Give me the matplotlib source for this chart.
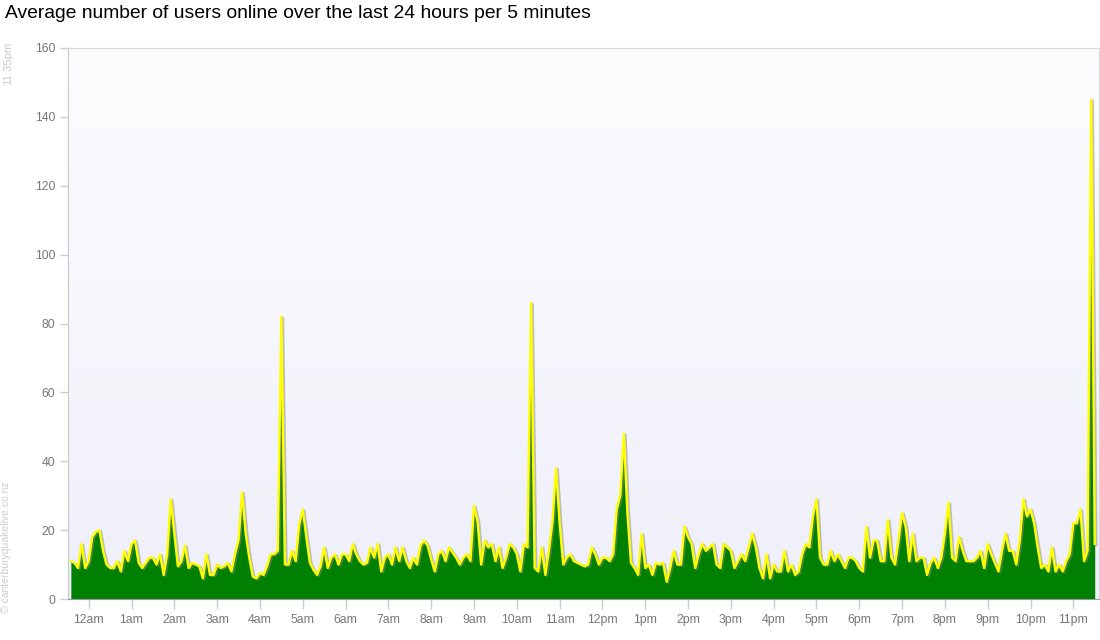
import numpy as np
import matplotlib.pyplot as plt
import matplotlib.patheffects as pe
from matplotlib.colors import LinearSegmentedColormap

plt.rcParams['font.family'] = ['Liberation Sans', 'DejaVu Sans']

# average users online, one value per 5 minutes, 11:35pm -> 11:30pm
users = [
    11, 10.5, 9, 16, 9, 11, 18, 19.5, 20, 14, 10, 9, 9, 11, 8, 14, 11, 16, 17, 10.5,
    9, 10.5, 12, 12, 10, 13, 7, 13, 29, 19, 9.5, 11, 15.5, 9, 10.5,
    10, 9.5, 6, 13, 7, 7, 10, 9, 9.5, 10.5, 8, 13, 17, 31, 19, 12, 6.5, 6, 7.5, 7,
    9.5, 13, 13, 14, 82, 10, 10, 14, 11, 21.5, 26, 18, 10.5, 8.5, 7, 9.5,
    15, 9, 12, 13, 10, 13, 13, 11, 16, 13, 11, 10, 10.5, 15, 12, 16, 8, 12, 13, 10,
    15, 11, 15, 11, 9, 12, 10, 15.5, 17, 15.5, 11.5, 8, 13, 14, 11, 15, 13.5,
    12, 10, 12, 13, 11, 27, 22.5, 10, 17, 15, 16, 11, 15, 9, 12, 16, 15, 13, 8, 16,
    15, 86, 9, 8, 15, 7, 14, 22.5, 38, 22, 10, 12, 13, 11, 10.5, 10,
    9.5, 10, 15, 13, 10, 12, 12, 11, 13, 26, 30, 48, 25, 10.5, 9, 7, 19, 9, 10, 7,
    10.5, 10, 10.5, 5, 9, 14, 10, 10, 21, 18, 16, 9, 13, 16, 14, 15, 16,
    10, 9, 16, 15, 14, 9, 11, 13, 11, 15, 19, 15, 9, 6, 13, 6, 10, 8, 8, 14,
    8, 10, 7, 8, 13, 16, 15, 24, 29, 12, 10, 10, 14, 11, 13, 11,
    9, 12, 12, 11, 9, 8, 21, 12, 17, 17, 11, 11, 23, 12, 10, 17, 25, 21, 11, 19,
    11, 12, 12, 7, 10.5, 12, 9, 12, 19, 28, 12, 11, 18, 14, 11, 11, 11,
    12, 14, 9, 16, 13, 10.5, 8, 14, 19, 14, 14, 10, 17, 29, 24, 26, 22, 15, 9, 10,
    8, 15, 8, 10, 8, 11, 13, 22, 22, 26, 11, 14, 145, 16,
]
hour_labels = ['12am', '1am', '2am', '3am', '4am', '5am', '6am', '7am', '8am', '9am',
               '10am', '11am', '12pm', '1pm', '2pm', '3pm', '4pm', '5pm', '6pm', '7pm',
               '8pm', '9pm', '10pm', '11pm']
y_ticks = [0, 20, 40, 60, 80, 100, 120, 140, 160]

x = np.arange(len(users))
hour_pos = [5 + 12 * k for k in range(len(hour_labels))]  # 12am is the 6th sample

fig = plt.figure(figsize=(11, 6.4), dpi=100)
ax = fig.add_axes([68 / 1100, 1 - 599 / 640, 1031 / 1100, 551 / 640])

# soft background gradient: white at top, pale lavender at the bottom
grad = np.linspace(0, 1, 256).reshape(-1, 1)
bg = LinearSegmentedColormap.from_list('bg', ['#efeffa', '#fdfdff'])
ax.imshow(grad, aspect='auto', cmap=bg, extent=[-0.8, 288.2, 160, 0], zorder=0)

ax.fill_between(x, users, 0, color='#008000', zorder=2, linewidth=0)
ax.plot(x, users, color='#ffff00', linewidth=1.7, zorder=3,
        path_effects=[pe.SimpleLineShadow(offset=(1.2, -0.8), shadow_color='#888888', alpha=0.5),
                      pe.Normal()])

ax.set_xlim(-0.8, 288.2)
ax.set_ylim(0, 160)
ax.set_xticks(hour_pos)
ax.set_xticklabels(hour_labels)
ax.set_yticks(y_ticks)

ax.tick_params(axis='y', length=6, width=1, color='#cccccc', labelcolor='#777777',
               labelsize=8.8, pad=3)
ax.tick_params(axis='x', length=7.5, width=1, color='#cccccc', labelcolor='#777777',
               labelsize=8.8, pad=3.5)

for s in ['left', 'top', 'right']:
    ax.spines[s].set_color('#d8d8d8')
ax.spines['bottom'].set_color('#999999')
ax.spines['left'].set_color('#c8c8c8')

fig.text(5 / 1100, 1 - 18.5 / 640,
         'Average number of users online over the last 24 hours per 5 minutes',
         fontsize=13.9, color='black', ha='left', va='baseline')
fig.text(8 / 1100, 1 - 42 / 640, '11:35pm', rotation=90, fontsize=8.2,
         color='#cccccc', ha='center', va='top')
fig.text(6 / 1100, 1 - 547 / 640, '\u00a9 canterburyquakelive.co.nz', rotation=90,
         fontsize=7.5, color='#cccccc', ha='center', va='center')

fig.savefig('out.png', dpi=100)
